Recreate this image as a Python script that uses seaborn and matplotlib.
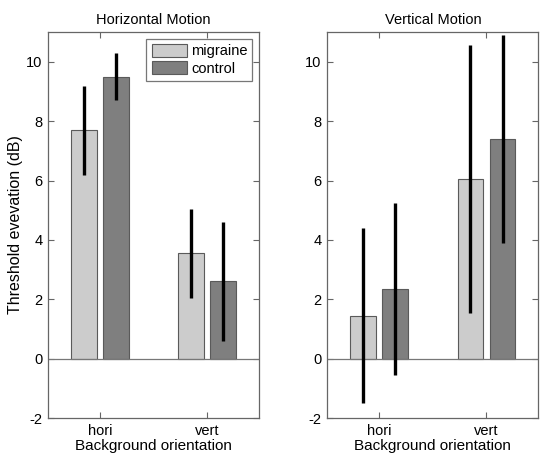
import numpy as np
import pandas as pd
import matplotlib
matplotlib.use("Agg")
import matplotlib.pyplot as plt
import seaborn as sns

# Chart data
orientations = ["hori", "vert"]
groups = ["migraine", "control"]
panels = ["Horizontal Motion", "Vertical Motion"]

# mean threshold elevation (dB), order: orientation x group
horiz_means = [7.7, 9.5, 3.55, 2.6]
horiz_errs = [1.5, 0.8, 1.5, 2.0]
vert_means = [1.45, 2.35, 6.05, 7.4]
vert_errs = [2.95, 2.9, 4.5, 3.5]

bar_colors = {"migraine": "#cccccc", "control": "#7f7f7f"}

sns.set_style("white")
plt.rcParams["font.family"] = ["Liberation Sans", "DejaVu Sans"]
plt.rcParams["font.size"] = 10.5
plt.rcParams["axes.unicode_minus"] = False
plt.rcParams["text.color"] = "black"
plt.rcParams["axes.labelcolor"] = "black"
plt.rcParams["xtick.labelcolor"] = "black"
plt.rcParams["ytick.labelcolor"] = "black"


def make_frame(means, errs):
    rows = []
    i = 0
    for o in orientations:
        for g in groups:
            rows.append({"orientation": o, "group": g, "mean": means[i], "err": errs[i]})
            i += 1
    return pd.DataFrame(rows)


fig = plt.figure(figsize=(5.5, 4.65), dpi=100)
ax1 = fig.add_axes([0.087, 0.101, 0.384, 0.830])
ax2 = fig.add_axes([0.595, 0.101, 0.384, 0.830])

for ax, title, means, errs in [(ax1, panels[0], horiz_means, horiz_errs),
                                (ax2, panels[1], vert_means, vert_errs)]:
    df = make_frame(means, errs)
    sns.barplot(data=df, x="orientation", y="mean", hue="group",
                order=orientations, hue_order=groups, palette=bar_colors,
                width=0.6, gap=0.2, errorbar=None, edgecolor="#5a5a5a",
                linewidth=0.8, legend=(ax is ax1), ax=ax)

    # error bars at the bar centres
    for container, g in zip(ax.containers, groups):
        sub = df[df["group"] == g].set_index("orientation").loc[orientations]
        xs = [p.get_x() + p.get_width() / 2 for p in container.patches]
        ax.errorbar(xs, sub["mean"], yerr=sub["err"], fmt="none",
                    ecolor="black", elinewidth=2.4, capsize=0, zorder=5)

    ax.axhline(0, color="#777777", lw=0.9, zorder=1)
    ax.set_xlim(-0.485, 1.485)
    ax.set_ylim(-2, 11)
    ax.set_yticks(np.arange(-2, 11, 2))
    ax.set_title(title, fontsize=10.5, pad=6)
    ax.set_xlabel("Background orientation", fontsize=11, labelpad=1)
    ax.set_ylabel("")
    ax.tick_params(direction="in", length=4, color="#666666",
                   top=True, right=True, bottom=True, left=True, pad=4)
    for s in ax.spines.values():
        s.set_color("#666666")
        s.set_linewidth(0.9)

ax1.set_ylabel("Threshold evevation (dB)", fontsize=11.5, labelpad=2)
leg = ax1.legend(loc="upper right", frameon=True, fancybox=False,
                 edgecolor="#555555", borderaxespad=0.45, handlelength=2.4,
                 handleheight=1.0, labelspacing=0.2, borderpad=0.35,
                 handletextpad=0.3, fontsize=10.5)
leg.get_frame().set_linewidth(0.9)

fig.savefig("out.png", dpi=100)
